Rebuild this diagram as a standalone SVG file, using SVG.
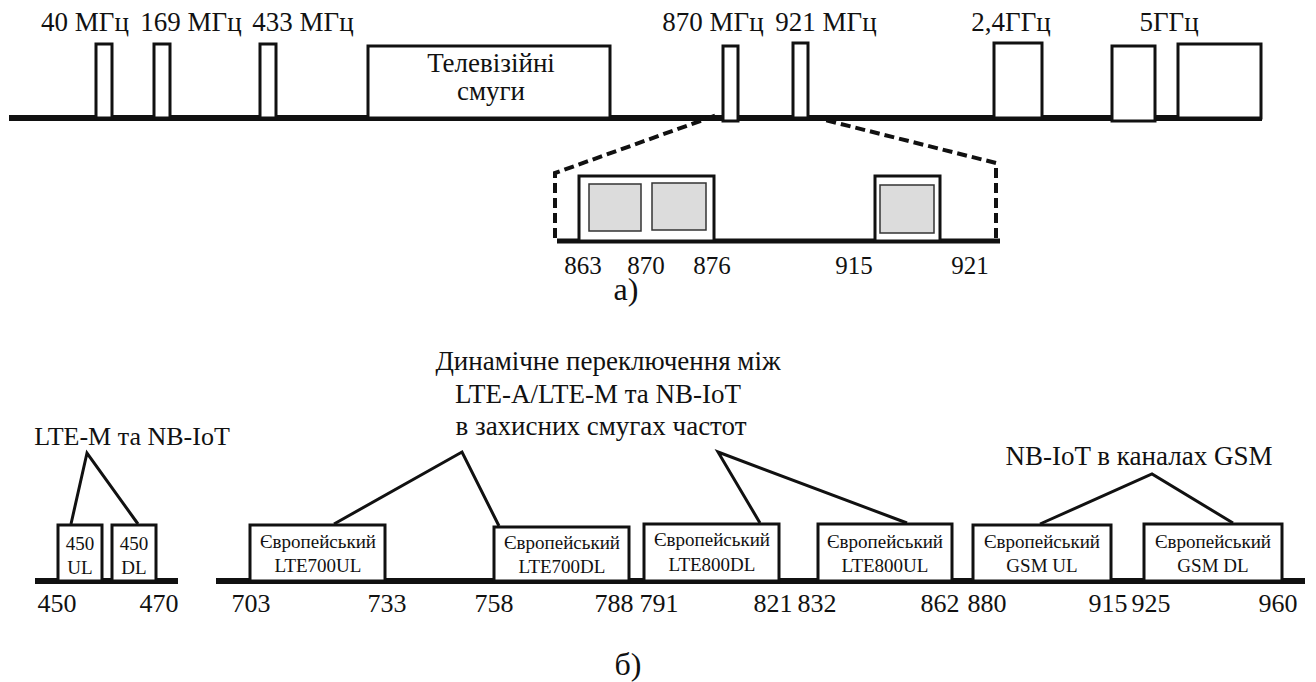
<svg xmlns="http://www.w3.org/2000/svg" width="1316" height="682" viewBox="0 0 1316 682">
<style>
text{font-family:"Liberation Serif","Times New Roman",serif;fill:#111;text-anchor:middle}
.lbl{font-size:27px}
.num{font-size:25px}
.numb{font-size:26px}
.bx{font-size:19px}
.cap{font-size:32px}
.axis{stroke:#111;stroke-width:6;fill:none}
.box{stroke:#111;stroke-width:3;fill:#fff}
.inner{stroke:#333;stroke-width:1.5;fill:#dcdcdc}
.conn{stroke:#111;stroke-width:3;fill:none;stroke-linejoin:miter}
.dash{stroke:#111;stroke-width:4;fill:none;stroke-dasharray:10 5}
</style>
<rect width="1316" height="682" fill="#fff"/>

<g id="top-axis">
<line class="axis" x1="9" y1="118" x2="1262" y2="118"/>
</g>
<g id="band-40"><rect class="box" x="96" y="44" width="16" height="74"/><text class="lbl" x="85" y="31">40 МГц</text></g>
<g id="band-169"><rect class="box" x="154" y="44" width="16" height="74"/><text class="lbl" x="191" y="31">169 МГц</text></g>
<g id="band-433"><rect class="box" x="260" y="44" width="16" height="74"/><text class="lbl" x="303" y="31">433 МГц</text></g>
<g id="band-tv"><rect class="box" x="368" y="46" width="242" height="72"/><text class="lbl" x="491" y="72">Телевізійні</text><text class="lbl" x="491" y="100">смуги</text></g>
<g id="band-870"><rect class="box" x="723" y="46" width="15" height="75"/><text class="lbl" x="713" y="31">870 МГц</text></g>
<g id="band-921"><rect class="box" x="793" y="43" width="15" height="75"/><text class="lbl" x="826" y="31">921 МГц</text></g>
<g id="band-2g4"><rect class="box" x="994" y="43" width="48" height="75"/><text class="lbl" x="1011" y="31">2,4ГГц</text></g>
<g id="band-5g"><rect class="box" x="1112" y="46" width="43" height="75"/><rect class="box" x="1178" y="44" width="83" height="74"/><text class="lbl" x="1169" y="31">5ГГц</text></g>

<g id="zoom-axis">
<line class="axis" x1="557" y1="241" x2="1000" y2="241" style="stroke-width:5"/>
</g>
<g id="zoom-863-876"><rect class="box" x="579" y="176" width="135" height="65"/><rect class="inner" x="589" y="184" width="52" height="47"/><rect class="inner" x="652" y="183" width="54" height="47"/></g>
<g id="zoom-915-921"><rect class="box" x="875" y="176" width="65" height="65"/><rect class="inner" x="880" y="185" width="54" height="48"/></g>
<g id="zoom-labels">
<text class="num" x="583" y="274">863</text>
<text class="num" x="646" y="274">870</text>
<text class="num" x="712" y="274">876</text>
<text class="num" x="854" y="274">915</text>
<text class="num" x="970" y="274">921</text>
<text class="cap" x="626" y="300">а)</text>
</g>

<g id="bottom-axes">
<line class="axis" x1="35" y1="581" x2="178" y2="581"/>
<line class="axis" x1="216" y1="581" x2="1305" y2="581"/>
</g>
<g id="b450ul"><rect class="box" x="58" y="525" width="44" height="56"/><text class="bx" x="80" y="550">450</text><text class="bx" x="80" y="574">UL</text></g>
<g id="b450dl"><rect class="box" x="112" y="525" width="44" height="56"/><text class="bx" x="134" y="550">450</text><text class="bx" x="134" y="574">DL</text></g>
<g id="lte700ul"><rect class="box" x="250" y="525" width="135" height="56"/><text class="bx" x="318" y="548">Європейський</text><text class="bx" x="318" y="572">LTE700UL</text></g>
<g id="lte700dl"><rect class="box" x="494" y="527" width="135" height="54"/><text class="bx" x="562" y="549">Європейський</text><text class="bx" x="562" y="573">LTE700DL</text></g>
<g id="lte800dl"><rect class="box" x="644" y="524" width="135" height="57"/><text class="bx" x="712" y="546">Європейський</text><text class="bx" x="712" y="571">LTE800DL</text></g>
<g id="lte800ul"><rect class="box" x="818" y="524" width="134" height="57"/><text class="bx" x="885" y="548">Європейський</text><text class="bx" x="885" y="572">LTE800UL</text></g>
<g id="gsmul"><rect class="box" x="973" y="525" width="138" height="56"/><text class="bx" x="1042" y="548">Європейський</text><text class="bx" x="1042" y="572">GSM UL</text></g>
<g id="gsmdl"><rect class="box" x="1144" y="524" width="138" height="57"/><text class="bx" x="1213" y="548">Європейський</text><text class="bx" x="1213" y="572">GSM DL</text></g>

<g id="bottom-numbers">
<text class="numb" x="57" y="612">450</text>
<text class="numb" x="159" y="612">470</text>
<text class="numb" x="251" y="612">703</text>
<text class="numb" x="387" y="612">733</text>
<text class="numb" x="494" y="612">758</text>
<text class="numb" x="614" y="612">788</text>
<text class="numb" x="659" y="612">791</text>
<text class="numb" x="773" y="612">821</text>
<text class="numb" x="817" y="612">832</text>
<text class="numb" x="940" y="612">862</text>
<text class="numb" x="987" y="612">880</text>
<text class="numb" x="1108" y="612">915</text>
<text class="numb" x="1151" y="612">925</text>
<text class="numb" x="1278" y="612">960</text>
<text class="cap" x="628" y="675">б)</text>
</g>

<g id="annotations">
<text class="lbl" x="132" y="445" style="font-size:26px">LTE-M та NB-IoT</text>
<text class="lbl" x="608" y="370">Динамічне переключення між</text>
<text class="lbl" x="598" y="403">LTE-A/LTE-M та NB-IoT</text>
<text class="lbl" x="601" y="435">в захисних смугах частот</text>
<text class="lbl" x="1139" y="465">NB-IoT в каналах GSM</text>
</g>

<g id="connectors">
<polyline class="dash" points="555,238 555,173 717,115"/>
<polyline class="dash" points="996,238 996,163 813,117"/>
<polyline class="conn" points="71,524 87,453 138,524"/>
<polyline class="conn" points="334,524 462,452 499,526"/>
<polyline class="conn" points="760,523 718,452 907,523"/>
<polyline class="conn" points="1040,524 1152,474 1233,523"/>
</g>
</svg>
